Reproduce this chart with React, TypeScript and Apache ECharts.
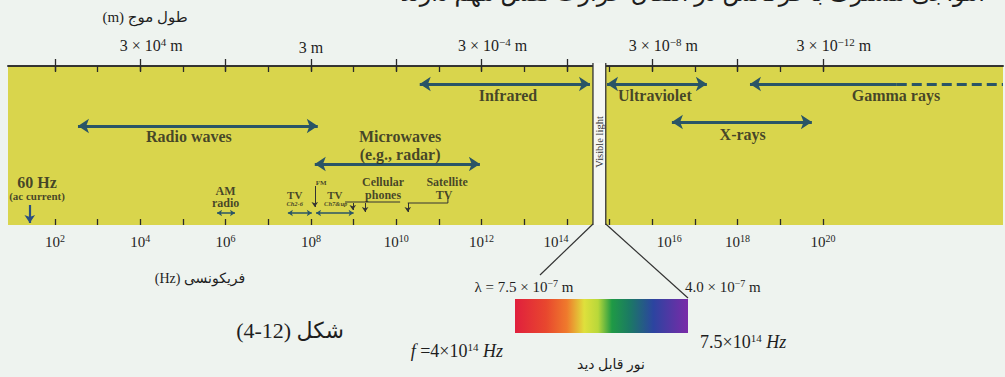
import { useEffect, useRef } from 'react';
import * as echarts from 'echarts';

// ---- axis extents (log10 of frequency in Hz) ----
const X_MIN = 0.9;
const X_MAX = 24.22;
const Y_MAX = 159; // vertical rows inside the yellow band (top = 0)

const freqTickExps = [2, 3, 4, 5, 6, 7, 8, 9, 10, 11, 12, 13, 14, 15, 16, 17, 18, 19, 20];
const freqLabelExps = [2, 4, 6, 8, 10, 12, 14, 16, 18, 20];
const waveTickExps = [2, 4, 6, 8, 10, 12, 14, 16, 18, 20];
const waveLabelAt = [4, 8, 12, 16, 20];
const waveLabelExp = ['4', '', '−4', '−8', '−12'];

// ---- bands (double arrows) ----
const bandNames = ['Radio waves', 'Microwaves', 'Infrared', 'Ultraviolet', 'X-rays'];
const bandFrom = [2.54, 8.09, 10.55, 14.94, 16.46];
const bandTo = [8.16, 11.96, 14.54, 17.28, 19.74];
const bandRow = [60, 98, 18, 18, 56];

const gammaFrom = 18.29;
const gammaSolidTo = 21.73;
const gammaDashTo = 24.22;
const gammaRow = 18;

const labelNames = ['Radio waves', 'Microwaves', '(e.g., radar)', 'Infrared', 'Ultraviolet', 'X-rays', 'Gamma rays'];
const labelX = [5.14, 10.09, 10.09, 12.62, 16.06, 18.12, 21.71];
const labelRow = [70, 70, 88, 29, 29, 68, 29];

const visibleFrom = 14.61;
const visibleTo = 14.91;

// ---- small notes in the low-frequency part ----
const noteText = ['60 Hz', '(ac current)', 'AM', 'radio', 'TV', 'Ch2-6', 'FM', 'TV', 'Ch7&up', 'Cellular', 'phones', 'Satellite', 'TV'];
const noteX = [1.58, 1.58, 6.0, 6.0, 7.62, 7.62, 8.24, 8.56, 8.58, 9.69, 9.69, 11.19, 11.12];
const noteRow = [116, 130, 125, 137, 129, 137, 117, 129, 137, 116, 129, 116, 129];
const noteSize = [16, 11, 12, 12, 11, 6.5, 7, 11, 6.5, 12, 12, 12, 12];
const noteItalic = [false, false, false, false, false, true, false, false, true, false, false, false, false];

const acArrow = [[1.41, 139], [1.41, 157]];
const pointerPaths = [
  [[8.09, 120], [8.09, 141]],
  [[8.98, 137], [8.98, 144]],
  [[9.27, 137], [9.27, 146]],
  [[10.27, 137], [10.27, 146]],
];
const twoWayPaths = [
  [[5.8, 147], [6.22, 147]],
  [[7.46, 147], [8.02, 147]],
  [[8.12, 147], [9.0, 147]],
];
const bracketPaths = [
  [[10.09, 136], [8.8, 136]],
  [[11.21, 132], [11.21, 137], [10.27, 137]],
];

const SERIF = "'Liberation Serif', 'DejaVu Sans', serif";
const PERSIAN = "'Liberation Serif', 'DejaVu Sans', sans-serif";
const YELLOW = '#d9d54c';
const ARROW = '#2a5566';
const INK = '#1e1e1e';
const BG = '#eef3ef';

export default function App() {
  const ref = useRef<HTMLDivElement>(null);

  useEffect(() => {
    const chart = echarts.init(ref.current!, null, { renderer: 'svg' });

    const supStyle = { fontSize: 10, fontFamily: SERIF, color: INK, padding: [0, 0, 8, 0] };

    const baseX = {
      type: 'value',
      min: X_MIN,
      max: X_MAX,
      gridIndex: 0,
      splitLine: { show: false },
    };

    const option: any = {
      animation: false,
      backgroundColor: BG,
      grid: {
        left: 8,
        right: 2,
        top: 66,
        height: Y_MAX,
        show: true,
        backgroundColor: YELLOW,
        borderWidth: 0,
      },
      xAxis: [
        {
          ...baseX,
          position: 'bottom',
          axisLine: { show: true, lineStyle: { color: '#2a2a2a', width: 1.6 } },
          axisTick: { show: true, inside: false, length: 6, customValues: freqTickExps, lineStyle: { color: '#2a2a2a', width: 1.3 } },
          axisLabel: {
            show: true,
            margin: 8,
            customValues: freqLabelExps,
            formatter: (v: number) => {
              const k = Math.round(v);
              if (k === 14) return `{n|10}{sl|${k}}`;
              if (k === 16) return `{nr|10}{s|${k}}`;
              return `{n|10}{s|${k}}`;
            },
            rich: {
              n: { fontSize: 15, fontFamily: SERIF, color: INK },
              nr: { fontSize: 15, fontFamily: SERIF, color: INK, padding: [0, 0, 0, 34] },
              s: supStyle,
              sl: { ...supStyle, padding: [0, 22, 8, 0] },
            },
          },
        },
        {
          ...baseX,
          position: 'bottom',
          axisLine: { show: false },
          axisTick: { show: true, inside: true, length: 6, customValues: freqTickExps, lineStyle: { color: '#2a2a2a', width: 1.3 } },
          axisLabel: { show: false },
        },
        {
          ...baseX,
          position: 'top',
          axisLine: { show: true, lineStyle: { color: '#2a2a2a', width: 1.6 } },
          axisTick: { show: true, inside: false, length: 7, customValues: waveTickExps, lineStyle: { color: '#2a2a2a', width: 1.3 } },
          axisLabel: {
            show: true,
            margin: 11,
            customValues: waveLabelAt,
            formatter: (v: number) => {
              const i = waveLabelAt.indexOf(Math.round(v));
              const e = waveLabelExp[i];
              if (!e) return '{n|3 m}';
              return `{p|3 × 10}{s|${e}}{n| m}`;
            },
            rich: {
              n: { fontSize: 16, fontFamily: SERIF, color: INK },
              p: { fontSize: 16, fontFamily: SERIF, color: INK, padding: [0, 0, 0, 22] },
              s: { ...supStyle, fontSize: 11 },
            },
          },
        },
        {
          ...baseX,
          position: 'top',
          axisLine: { show: false },
          axisTick: { show: true, inside: true, length: 5, customValues: waveTickExps, lineStyle: { color: '#2a2a2a', width: 1.3 } },
          axisLabel: { show: false },
        },
      ],
      yAxis: { type: 'value', min: 0, max: Y_MAX, inverse: true, show: false, gridIndex: 0 },
      series: [
        {
          type: 'lines',
          coordinateSystem: 'cartesian2d',
          xAxisIndex: 0,
          yAxisIndex: 0,
          z: 5,
          symbol: ['arrow', 'arrow'],
          symbolSize: 11,
          lineStyle: { color: ARROW, width: 3, opacity: 1, curveness: 0 },
          data: bandNames.map((n, i) => ({ name: n, coords: [[bandFrom[i], bandRow[i]], [bandTo[i], bandRow[i]]] })),
        },
        {
          type: 'lines',
          coordinateSystem: 'cartesian2d',
          z: 5,
          symbol: ['arrow', 'none'],
          symbolSize: 11,
          lineStyle: { color: ARROW, width: 3, opacity: 1, curveness: 0 },
          data: [{ coords: [[gammaFrom, gammaRow], [gammaSolidTo, gammaRow]] }],
        },
        {
          type: 'lines',
          coordinateSystem: 'cartesian2d',
          z: 5,
          symbol: 'none',
          lineStyle: { color: ARROW, width: 3, opacity: 1, type: [10, 5], curveness: 0 },
          data: [{ coords: [[gammaSolidTo, gammaRow], [gammaDashTo, gammaRow]] }],
        },
        {
          type: 'lines',
          coordinateSystem: 'cartesian2d',
          z: 5,
          symbol: ['none', 'arrow'],
          symbolSize: 8,
          lineStyle: { color: '#2b4f80', width: 2.2, opacity: 1, curveness: 0 },
          data: [{ coords: acArrow }],
        },
        {
          type: 'lines',
          coordinateSystem: 'cartesian2d',
          z: 5,
          symbol: ['none', 'arrow'],
          symbolSize: 5,
          lineStyle: { color: '#333', width: 1, opacity: 1, curveness: 0 },
          data: pointerPaths.map((c) => ({ coords: c })),
        },
        {
          type: 'lines',
          coordinateSystem: 'cartesian2d',
          z: 5,
          symbol: ['arrow', 'arrow'],
          symbolSize: 5,
          lineStyle: { color: ARROW, width: 1.5, opacity: 1, curveness: 0 },
          data: twoWayPaths.map((c) => ({ coords: c })),
        },
        {
          type: 'lines',
          coordinateSystem: 'cartesian2d',
          polyline: true,
          z: 5,
          symbol: 'none',
          lineStyle: { color: '#333', width: 1, opacity: 1 },
          data: bracketPaths.map((c) => ({ coords: c })),
        },
        {
          type: 'scatter',
          z: 6,
          silent: true,
          symbolSize: 0,
          data: labelNames.map((n, i) => ({ name: n, value: [labelX[i], labelRow[i]] })),
          label: {
            show: true,
            position: 'inside',
            formatter: '{b}',
            fontFamily: SERIF,
            fontWeight: 'bold',
            fontSize: 16,
            color: INK,
          },
        },
        {
          type: 'scatter',
          z: 6,
          silent: true,
          symbolSize: 0,
          data: noteText.map((t, i) => ({
            name: t,
            value: [noteX[i], noteRow[i]],
            label: { fontSize: noteSize[i], fontStyle: noteItalic[i] ? 'italic' : 'normal', lineHeight: noteSize[i] },
          })),
          label: {
            show: true,
            position: 'inside',
            formatter: '{b}',
            fontFamily: SERIF,
            fontWeight: 'bold',
            color: INK,
          },
        },
        {
          type: 'custom',
          z: 8,
          silent: true,
          data: [[visibleFrom, visibleTo]],
          renderItem: (_p: any, api: any) => {
            const a = api.coord([api.value(0), 0]);
            const b = api.coord([api.value(1), 0]);
            const bot = api.coord([api.value(0), Y_MAX]);
            const mid = api.coord([api.value(0), 76]);
            const top = a[1] - 3;
            return {
              type: 'group',
              children: [
                { type: 'rect', shape: { x: a[0], y: top, width: b[0] - a[0], height: bot[1] - top }, style: { fill: '#f5f7f3' } },
                { type: 'line', shape: { x1: a[0], y1: top, x2: a[0], y2: bot[1] }, style: { stroke: '#333', lineWidth: 1.3 } },
                { type: 'line', shape: { x1: b[0], y1: top, x2: b[0], y2: bot[1] }, style: { stroke: '#333', lineWidth: 1.3 } },
                {
                  type: 'text',
                  x: (a[0] + b[0]) / 2,
                  y: mid[1],
                  rotation: Math.PI / 2,
                  style: {
                    text: 'Visible light',
                    fontSize: 10.5,
                    fontFamily: SERIF,
                    fill: '#333',
                    align: 'center',
                    verticalAlign: 'middle',
                  },
                },
              ],
            };
          },
        },
      ],
    };

    chart.setOption(option);

    const pl = chart.convertToPixel({ xAxisIndex: 0, yAxisIndex: 0 }, [visibleFrom, Y_MAX]) as number[];
    const pr = chart.convertToPixel({ xAxisIndex: 0, yAxisIndex: 0 }, [visibleTo, Y_MAX]) as number[];

    const txt = (x: number, y: number, text: string, extra: any = {}) => ({
      type: 'text',
      x,
      y,
      silent: true,
      style: {
        text,
        fill: INK,
        fontFamily: SERIF,
        fontSize: 15,
        align: 'center',
        verticalAlign: 'middle',
        textAlign: 'center',
        textVerticalAlign: 'middle',
        ...extra,
      },
    });

    const richSup = { fontSize: 10, fontFamily: SERIF, fill: INK, padding: [0, 0, 8, 0] };

    chart.setOption({
      graphic: [
        { type: 'line', silent: true, shape: { x1: pl[0], y1: pl[1] - 1, x2: 540, y2: 275 }, style: { stroke: '#333', lineWidth: 1.2 } },
        { type: 'line', silent: true, shape: { x1: pr[0], y1: pr[1] - 1, x2: 688, y2: 298 }, style: { stroke: '#333', lineWidth: 1.2 } },
        {
          type: 'rect',
          silent: true,
          shape: { x: 515, y: 299, width: 173, height: 34 },
          style: {
            fill: {
              type: 'linear',
              x: 0,
              y: 0,
              x2: 1,
              y2: 0,
              colorStops: [
                { offset: 0, color: '#e01f3d' },
                { offset: 0.18, color: '#e8472e' },
                { offset: 0.3, color: '#ef7a2c' },
                { offset: 0.4, color: '#dfe03c' },
                { offset: 0.48, color: '#b9d83a' },
                { offset: 0.56, color: '#1f9a45' },
                { offset: 0.66, color: '#1b7a63' },
                { offset: 0.8, color: '#2c44a0' },
                { offset: 1, color: '#7a2aa8' },
              ],
            },
          },
        },
        txt(524, 287, '{a|λ = 7.5 × 10}{s|−7}{a| m}', {
          rich: { a: { fontSize: 15, fontFamily: SERIF, fill: INK }, s: richSup },
        }),
        txt(685, 287, '{a|4.0 × 10}{s|−7}{a| m}', {
          align: 'left',
          textAlign: 'left',
          rich: { a: { fontSize: 15, fontFamily: SERIF, fill: INK }, s: richSup },
        }),
        txt(700, 342, '{a|7.5×10}{s|14}{i| Hz}', {
          align: 'left',
          textAlign: 'left',
          rich: {
            a: { fontSize: 18, fontFamily: SERIF, fill: INK },
            s: { ...richSup, fontSize: 11, padding: [0, 0, 9, 0] },
            i: { fontSize: 18, fontFamily: SERIF, fontStyle: 'italic', fill: INK },
          },
        }),
        txt(503, 351, '{i|f}{a| =4×10}{s|14}{i| Hz}', {
          align: 'right',
          textAlign: 'right',
          rich: {
            a: { fontSize: 18, fontFamily: SERIF, fill: INK },
            s: { ...richSup, fontSize: 11, padding: [0, 0, 9, 0] },
            i: { fontSize: 18, fontFamily: SERIF, fontStyle: 'italic', fill: INK },
          },
        }),
        txt(611, 364, 'نور قابل دید', { fontFamily: PERSIAN, fontSize: 14 }),
        txt(290, 330, '(4-12) شکل', { fontFamily: PERSIAN, fontSize: 22 }),
        txt(200, 278, '(Hz) فریکونسی', { fontFamily: PERSIAN, fontSize: 14 }),
        txt(145, 17, '(m) طول موج', { fontFamily: PERSIAN, fontSize: 15 }),
        txt(985, -7, 'امواجی مشترک با فرکانس در انتقال حرارت نقش مهم دارند', {
          fontFamily: PERSIAN,
          fontSize: 24,
          align: 'right',
          textAlign: 'right',
        }),
      ],
    });

    return () => chart.dispose();
  }, []);

  return (
    <div
      ref={ref}
      style={{ position: 'absolute', left: 0, top: 0, width: 1005, height: 377 }}
    />
  );
}
